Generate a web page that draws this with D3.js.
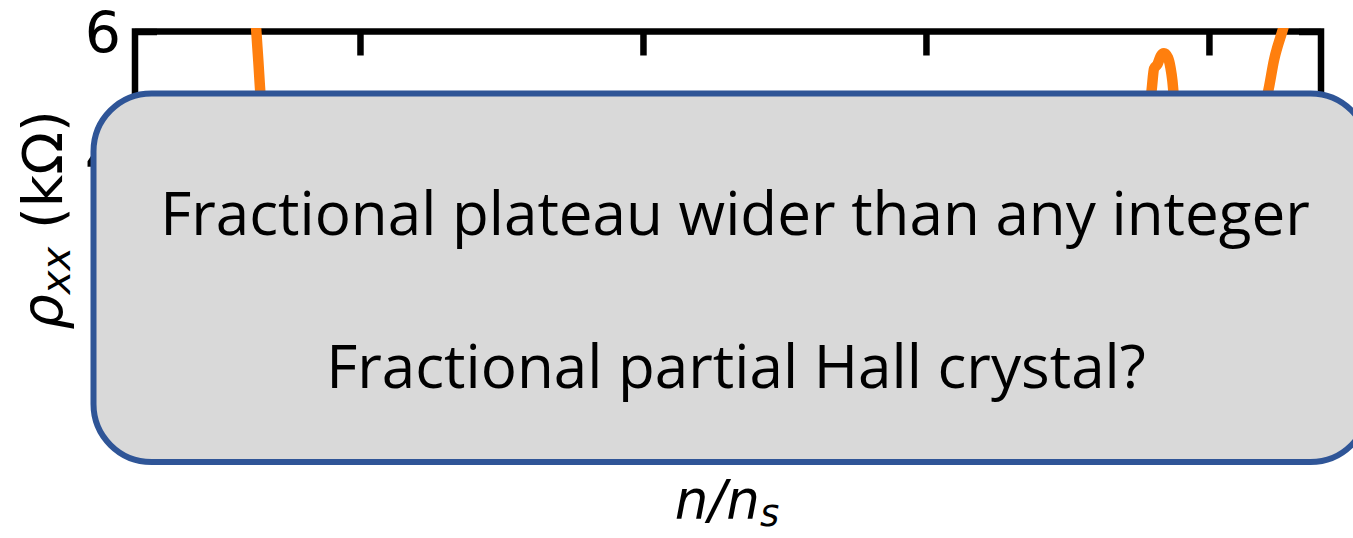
<!DOCTYPE html>
<html>
<head>
<meta charset="utf-8">
<script src="https://cdn.jsdelivr.net/npm/d3@7"></script>
<style>
  body { margin: 0; background: #fff; }
  svg { display: block; }
</style>
</head>
<body>
<svg id="chart" width="1353" height="538"></svg>
<script>
// tick values
const xTicks = [1, 2, 3, 4];
const yTicks = [4, 6];

// rho_xx trace (n/n_s in arbitrary units, kOhm)
const fillN = [0.615, 0.628, 0.633, 0.641, 0.648, 0.66, 0.68, 0.72, 0.80, 0.95, 1.10, 1.30,
  1.50, 1.70, 1.90, 2.10, 2.30, 2.50, 2.70, 2.90, 3.10, 3.30, 3.50, 3.65, 3.75, 3.795,
  3.806, 3.818, 3.830, 3.841, 3.855, 3.864, 3.871, 3.876, 3.89, 3.93, 4.00, 4.08, 4.15,
  4.195, 4.208, 4.230, 4.263, 4.29, 4.31];
const rhoXX = [6.8, 6.43, 6.05, 5.51, 5.01, 4.5, 4.0, 3.6, 3.4, 3.3, 3.25, 3.2,
  3.35, 3.6, 3.4, 3.3, 3.5, 3.8, 3.5, 3.3, 3.25, 3.4, 3.8, 4.2, 4.6, 4.976,
  5.40, 5.47, 5.61, 5.65, 5.58, 5.42, 5.20, 4.95, 4.5, 4.0, 3.8, 4.0, 4.4,
  4.8, 5.01, 5.54, 6.06, 6.5, 6.9];

const boxLines = ["Fractional plateau wider than any integer", "Fractional partial Hall crystal?"];

const svg = d3.select("#chart");
const plot = { left: 135, right: 1321, top: 31.5, bottom: 217.5 };

const x = d3.scaleLinear().domain([0.205, 4.396]).range([plot.left, plot.right]);
const y = d3.scaleLinear().domain([3, 6]).range([plot.bottom, plot.top]);

const tickFont = "DejaVu Sans";

function styleAxis(g, showLabels) {
  g.select(".domain").remove();
  g.selectAll(".tick line").attr("stroke", "#000").attr("stroke-width", 6.5);
  g.selectAll(".tick text")
    .attr("font-family", tickFont)
    .attr("font-size", 57)
    .attr("fill", "#000");
  if (!showLabels) g.selectAll(".tick text").remove();
}

// axes, ticks pointing inward (bottom labels sit under the box, so left out)
svg.append("g")
  .attr("transform", "translate(0," + plot.bottom + ")")
  .call(d3.axisBottom(x).tickValues(xTicks).tickSize(-22))
  .call(g => styleAxis(g, false));
svg.append("g")
  .attr("transform", "translate(0," + plot.top + ")")
  .call(d3.axisTop(x).tickValues(xTicks).tickSize(-24))
  .call(g => styleAxis(g, false));
const yAxisG = svg.append("g")
  .attr("transform", "translate(" + plot.left + ",0)")
  .call(d3.axisLeft(y).tickValues(yTicks).tickSize(-22).tickPadding(14).tickFormat(d3.format("d")))
  .call(g => styleAxis(g, true));
yAxisG.selectAll(".tick text").attr("dy", "0.36em");
svg.append("g")
  .attr("transform", "translate(" + plot.right + ",0)")
  .call(d3.axisRight(y).tickValues(yTicks).tickSize(-22))
  .call(g => styleAxis(g, false));

// frame
svg.append("rect")
  .attr("x", plot.left).attr("y", plot.top)
  .attr("width", plot.right - plot.left).attr("height", plot.bottom - plot.top)
  .attr("fill", "none").attr("stroke", "#000").attr("stroke-width", 6.5);

// data trace, clipped to axes area
svg.append("clipPath").attr("id", "clip")
  .append("rect")
  .attr("x", plot.left).attr("y", plot.top - 3.5)
  .attr("width", plot.right - plot.left).attr("height", plot.bottom - plot.top + 3.5);

const data = fillN.map((n, i) => ({ n: n, r: rhoXX[i] }));
const line = d3.line()
  .x(d => x(d.n))
  .y(d => y(d.r))
  .curve(d3.curveMonotoneX);

svg.append("path")
  .datum(data)
  .attr("clip-path", "url(#clip)")
  .attr("d", line)
  .attr("fill", "none")
  .attr("stroke", "#ff7f0e")
  .attr("stroke-width", 10.5)
  .attr("stroke-linejoin", "round");

// axis labels
svg.append("text")
  .attr("x", 727).attr("y", 518)
  .attr("text-anchor", "middle")
  .attr("font-family", tickFont)
  .attr("font-size", 53)
  .attr("font-style", "italic")
  .call(t => {
    t.append("tspan").text("n/n");
    t.append("tspan").attr("font-size", 37).attr("dy", 8).text("s");
  });

const yl = svg.append("text")
  .attr("transform", "translate(62,220) rotate(-90)")
  .attr("text-anchor", "middle")
  .attr("font-family", tickFont)
  .attr("font-size", 56);
yl.append("tspan").attr("font-style", "italic").text("ρ");
yl.append("tspan").attr("font-style", "italic").attr("font-size", 40).attr("dy", 8).text("xx");
yl.append("tspan").attr("dy", -8).text(" (kΩ)");

// annotation box
svg.append("rect")
  .attr("x", 93.5).attr("y", 93.5)
  .attr("width", 1275).attr("height", 368.5)
  .attr("rx", 58).attr("ry", 58)
  .attr("fill", "#d9d9d9")
  .attr("stroke", "#2f5597")
  .attr("stroke-width", 6);

const t1 = svg.append("text")
  .attr("x", 735).attr("y", 235)
  .attr("text-anchor", "middle")
  .attr("font-family", "Open Sans")
  .attr("font-size", 60)
  .attr("fill", "#000")
  .text(boxLines[0]);
// fit the font size to the measured line width
const w1 = t1.node().getComputedTextLength();
const fs = 60 * 1150 / w1;
t1.attr("font-size", fs);

svg.append("text")
  .attr("x", 736).attr("y", 388)
  .attr("text-anchor", "middle")
  .attr("font-family", "Open Sans")
  .attr("font-size", fs)
  .attr("fill", "#000")
  .text(boxLines[1]);
</script>
</body>
</html>
